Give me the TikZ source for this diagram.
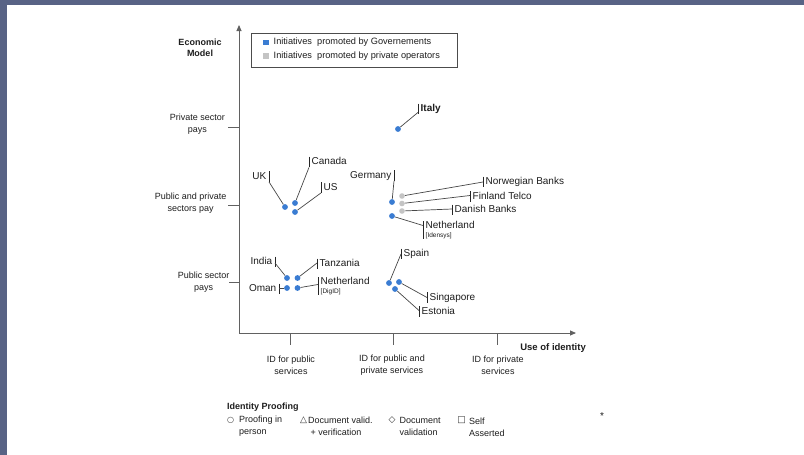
\documentclass[tikz,border=0pt]{standalone}
\usepackage{fontspec}
\setmainfont{Liberation Sans}
\newfontfamily\symfont{DejaVu Sans}
\usetikzlibrary{arrows.meta,calc}
\definecolor{framecol}{RGB}{88,99,133}
\definecolor{govblue}{RGB}{58,124,210}
\definecolor{privgrey}{RGB}{196,196,196}
\definecolor{ink}{RGB}{30,30,30}
\begin{document}
\begin{tikzpicture}[x=1pt,y=-1pt,
  axis/.style={line width=0.9pt, draw=black!62},
  tickline/.style={line width=0.8pt, draw=black!62},
  dotgov/.style={circle, fill=govblue, inner sep=0pt, minimum size=5.8pt},
  dotpriv/.style={circle, fill=privgrey, inner sep=0pt, minimum size=5.6pt},
  leader/.style={line width=0.7pt, draw=black!72},
  barline/.style={line width=0.8pt, draw=black!85},
  clabel/.style={font=\fontsize{10}{11}\selectfont, text=ink, inner xsep=2.5pt, inner ysep=0.5pt, text height=7.4pt, text depth=2pt},
  rlab/.style={clabel, anchor=west},
  llab/.style={clabel, anchor=east},
  twolab/.style={font=\fontsize{10}{8.5}\selectfont, text=ink, align=left, inner xsep=2.5pt, inner ysep=0.5pt, anchor=north west},
  axlabel/.style={font=\fontsize{9}{11.8}\selectfont, text=ink, align=center, inner sep=0pt},
  boldlabel/.style={font=\bfseries\fontsize{9}{11.2}\selectfont, text=ink, align=center, inner sep=0pt},
  legtext/.style={font=\fontsize{9.2}{11}\selectfont, text=ink, anchor=west, inner sep=0pt},
  legsq/.style={rectangle, inner sep=0pt, minimum size=5.8pt},
  proof/.style={font=\fontsize{9}{12}\selectfont, text=ink, align=left, anchor=west, inner sep=0pt},
  proofsym/.style={font=\symfont\fontsize{9}{9}\selectfont, text=black!80, inner sep=0pt}
]
\useasboundingbox (0,0) rectangle (804,455);
\fill[white] (0,0) rectangle (804,455);
\fill[framecol] (0,0) rectangle (804,4.5);
\fill[framecol] (0,0) rectangle (7,455);

% axes
\coordinate (O) at (239,333);
\coordinate (ytop) at (239,25);
\coordinate (xend) at (576,333);
\draw[axis, -{Triangle[length=6pt,width=5pt]}] (O) -- (ytop);
\draw[axis, -{Triangle[length=6pt,width=5pt]}] (O) -- (xend);

% y ticks and labels
\coordinate (ty1a) at (228,127); \coordinate (ty1b) at (239,127);
\coordinate (ty2a) at (228,205); \coordinate (ty2b) at (239,205);
\coordinate (ty3a) at (229,282); \coordinate (ty3b) at (239,282);
\draw[tickline] (ty1a) -- (ty1b);
\draw[tickline] (ty2a) -- (ty2b);
\draw[tickline] (ty3a) -- (ty3b);
\node[axlabel, anchor=east] (yl1) at (225,124.5) {Private sector\\pays};
\node[axlabel, anchor=east] (yl2) at (226.5,203) {Public and private\\sectors pay};
\node[axlabel, anchor=east] (yl3) at (229.5,282) {Public sector\\pays};
\node[boldlabel] (ytitle) at (200,47.5) {Economic\\Model};

% x ticks and labels
\coordinate (tx1a) at (290,333); \coordinate (tx1b) at (290,345);
\coordinate (tx2a) at (393,333); \coordinate (tx2b) at (393,345);
\coordinate (tx3a) at (497,333); \coordinate (tx3b) at (497,345);
\draw[tickline] (tx1a) -- (tx1b);
\draw[tickline] (tx2a) -- (tx2b);
\draw[tickline] (tx3a) -- (tx3b);
\node[axlabel] (xl1) at (291,365) {ID for public\\services};
\node[axlabel] (xl2) at (392,365) {ID for public and\\private services};
\node[axlabel] (xl3) at (498,365) {ID for private\\services};
\node[boldlabel, anchor=east, font=\bfseries\fontsize{9.5}{11}\selectfont] (xtitle) at (586,348) {Use of identity};

% legend
\node[draw=black!70, line width=0.6pt, minimum width=206pt, minimum height=34pt, anchor=north west, inner sep=0pt] (legend) at (251,33) {};
\node[legsq, fill=govblue] (lsq1) at (266,42.5) {};
\node[legsq, fill=privgrey] (lsq2) at (266,56) {};
\node[legtext] (lt1) at (273.5,42.5) {Initiatives\ \ promoted by Governements};
\node[legtext] (lt2) at (273.5,56) {Initiatives\ \ promoted by private operators};

% dots
\node[dotgov] (d-it) at (398,129) {};
\node[dotgov] (d-uk) at (285,207) {};
\node[dotgov] (d-ca) at (295,203) {};
\node[dotgov] (d-us) at (295,212) {};
\node[dotgov] (d-de) at (392,202) {};
\node[dotpriv] (d-no) at (402,196) {};
\node[dotpriv] (d-fi) at (402,203.5) {};
\node[dotpriv] (d-dk) at (402,211) {};
\node[dotgov] (d-nl1) at (392,216) {};
\node[dotgov] (d-in) at (287,278) {};
\node[dotgov] (d-tz) at (297.5,278) {};
\node[dotgov] (d-om) at (287,288) {};
\node[dotgov] (d-nl2) at (297.5,288) {};
\node[dotgov] (d-es) at (389,283) {};
\node[dotgov] (d-sg) at (399,282) {};
\node[dotgov] (d-ee) at (395,289) {};

% country labels
\node[rlab, font=\bfseries\fontsize{10}{11}\selectfont] (it) at (418,109) {Italy};
\node[llab] (uk) at (269,176.5) {UK};
\node[rlab] (ca) at (309,162) {Canada};
\node[rlab] (us) at (321,187.5) {US};
\node[llab] (de) at (394,175.5) {Germany};
\node[rlab] (no) at (483,182) {Norwegian Banks};
\node[rlab] (fi) at (470,196.5) {Finland Telco};
\node[rlab] (dk) at (452,210) {Danish Banks};
\node[twolab] (nl1) at (423,221) {Netherland\\{\fontsize{6.5}{7}\selectfont[Idensys]}};
\node[llab] (in) at (275,262) {India};
\node[rlab] (tz) at (317,264) {Tanzania};
\node[llab] (om) at (279,289) {Oman};
\node[twolab] (nl2) at (318,277) {Netherland\\{\fontsize{6.5}{7}\selectfont[DigID]}};
\node[rlab] (es) at (401,254) {Spain};
\node[rlab] (sg) at (427,297.5) {Singapore};
\node[rlab] (ee) at (419,311.5) {Estonia};

% bars
\foreach \n in {it,ca,us,no,fi,dk,nl1,tz,nl2,es,sg,ee}
  \draw[barline] (\n.north west) -- (\n.south west);
\foreach \n in {uk,de,in,om}
  \draw[barline] (\n.north east) -- (\n.south east);

% leaders
\draw[leader] (d-it) -- ($(it.south west)+(0,-2)$);
\draw[leader] (d-uk) -- (uk.south east);
\draw[leader] (d-ca) -- (ca.south west);
\draw[leader] (d-us) -- (us.south west);
\draw[leader] (d-de) -- (de.south east);
\draw[leader] (d-no) -- (no.west);
\draw[leader] (d-fi) -- ($(fi.west)+(0,-1)$);
\draw[leader] (d-dk) -- ($(dk.west)+(0,-1)$);
\draw[leader] (d-nl1) -- ($(nl1.north west)+(0,4.5)$);
\draw[leader] (d-in) -- ($(in.east)+(0,1)$);
\draw[leader] (d-tz) -- ($(tz.west)+(0,-1)$);
\draw[leader] (d-om) -- ($(om.east)+(0,-1)$);
\draw[leader] (d-nl2) -- ($(nl2.north west)+(0,7.5)$);
\draw[leader] (d-es) -- (es.west);
\draw[leader] (d-sg) -- (sg.west);
\draw[leader] (d-ee) -- ($(ee.west)+(0,-1)$);

% identity proofing legend
\node[boldlabel, anchor=west] (iptitle) at (227,407) {Identity Proofing};
\node[proofsym, font=\symfont\fontsize{8}{8}\selectfont] (s1) at (230.5,420.5) {○};
\node[proof] (p1) at (239,426.5) {Proofing in\\person};
\node[proofsym] (s2) at (303.5,420) {△};
\node[proof] (p2) at (308,426.5) {Document valid.\\\ + verification};
\node[proofsym] (s3) at (392,420) {◇};
\node[proof] (p3) at (399.5,426.5) {Document\\validation};
\node[proofsym] (s4) at (461.5,420) {□};
\node[proof] (p4) at (469,427) {Self\\Asserted};

\node[font=\fontsize{10}{10}\selectfont, text=ink, inner sep=0pt] (star) at (602,416) {*};
\end{tikzpicture}
\end{document}
